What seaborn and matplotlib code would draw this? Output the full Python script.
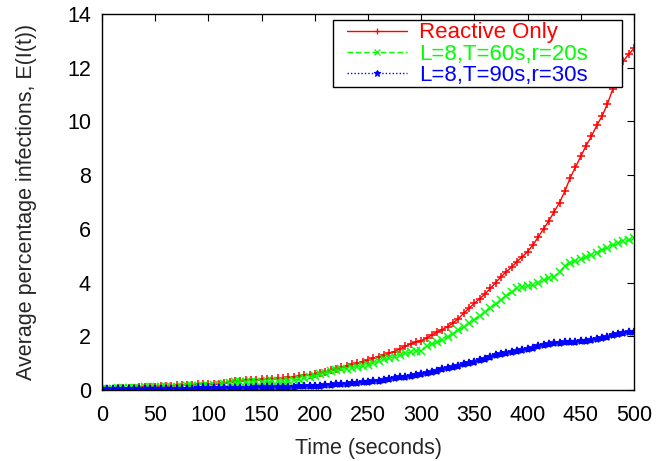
import numpy as np
import pandas as pd
import matplotlib
matplotlib.use("Agg")
import matplotlib.pyplot as plt
from matplotlib.patches import Rectangle
import seaborn as sns

# Simulation time, sampled every 5 seconds
time_s = list(range(0, 505, 5))

reactive_only = [
    0.03, 0.04, 0.05, 0.06, 0.07, 0.08, 0.09, 0.10, 0.11, 0.12,
    0.13, 0.14, 0.15, 0.16, 0.17, 0.18, 0.19, 0.20, 0.21, 0.21,
    0.22, 0.23, 0.24, 0.26, 0.30, 0.34, 0.35, 0.36, 0.37, 0.39,
    0.40, 0.41, 0.42, 0.44, 0.45, 0.47, 0.49, 0.52, 0.55, 0.57,
    0.60, 0.64, 0.68, 0.73, 0.78, 0.84, 0.90, 0.95, 1.00, 1.06,
    1.12, 1.18, 1.24, 1.30, 1.37, 1.43, 1.53, 1.62, 1.72, 1.78,
    1.84, 1.93, 2.05, 2.15, 2.25, 2.36, 2.50, 2.66, 2.86, 3.05,
    3.23, 3.40, 3.58, 3.78, 4.00, 4.22, 4.40, 4.58, 4.78, 4.96,
    5.15, 5.40, 5.70, 6.00, 6.30, 6.64, 6.98, 7.40, 7.90, 8.30,
    8.70, 9.10, 9.45, 9.85, 10.20, 10.65, 11.20, 11.90, 12.25, 12.50,
    12.72,
]

l8_t60_r20 = [
    0.03, 0.04, 0.05, 0.06, 0.07, 0.08, 0.09, 0.09, 0.10, 0.10,
    0.11, 0.11, 0.12, 0.12, 0.13, 0.13, 0.14, 0.14, 0.15, 0.15,
    0.16, 0.17, 0.19, 0.23, 0.27, 0.29, 0.29, 0.30, 0.30, 0.31,
    0.31, 0.32, 0.32, 0.33, 0.34, 0.35, 0.37, 0.40, 0.44, 0.48,
    0.52, 0.58, 0.64, 0.69, 0.73, 0.77, 0.80, 0.83, 0.86, 0.89,
    0.93, 1.00, 1.08, 1.14, 1.19, 1.24, 1.30, 1.36, 1.42, 1.45,
    1.47, 1.62, 1.70, 1.78, 1.86, 1.99, 2.10, 2.22, 2.35, 2.48,
    2.61, 2.75, 2.90, 3.05, 3.20, 3.35, 3.50, 3.65, 3.78, 3.83,
    3.86, 3.92, 4.00, 4.10, 4.16, 4.22, 4.40, 4.60, 4.72, 4.80,
    4.87, 4.95, 5.04, 5.12, 5.20, 5.30, 5.40, 5.48, 5.54, 5.60,
    5.65,
]

l8_t90_r30 = [
    0.02, 0.02, 0.02, 0.03, 0.03, 0.03, 0.03, 0.03, 0.04, 0.04,
    0.04, 0.04, 0.04, 0.05, 0.05, 0.05, 0.05, 0.05, 0.06, 0.06,
    0.06, 0.07, 0.07, 0.08, 0.08, 0.08, 0.09, 0.09, 0.09, 0.10,
    0.10, 0.11, 0.11, 0.12, 0.12, 0.13, 0.13, 0.14, 0.14, 0.15,
    0.15, 0.16, 0.18, 0.19, 0.21, 0.22, 0.24, 0.26, 0.27, 0.29,
    0.31, 0.33, 0.35, 0.38, 0.40, 0.43, 0.47, 0.50, 0.53, 0.56,
    0.60, 0.64, 0.68, 0.72, 0.77, 0.81, 0.86, 0.90, 0.95, 1.00,
    1.05, 1.10, 1.17, 1.24, 1.30, 1.34, 1.37, 1.41, 1.45, 1.48,
    1.51, 1.56, 1.62, 1.67, 1.71, 1.74, 1.76, 1.78, 1.79, 1.80,
    1.82, 1.84, 1.87, 1.91, 1.95, 1.99, 2.03, 2.07, 2.11, 2.15,
    2.17,
]

labels = ["Reactive Only", "L=8,T=60s,r=20s", "L=8,T=90s,r=30s"]
colors = ["#ff0000", "#00ff00", "#0000ff"]
markers = ["+", "x", "*"]
linestyles = ["-", (0, (4, 2)), (0, (1, 1.5))]

x_ticks = list(range(0, 501, 50))
y_ticks = list(range(0, 15, 2))

sns.set_style("white")
plt.rcParams["font.family"] = ["Liberation Sans", "DejaVu Sans"]

fig = plt.figure(figsize=(6.57, 4.61), dpi=100)
ax = fig.add_axes([0.1553, 0.154, 0.8097, 0.8156])

series = [reactive_only, l8_t60_r20, l8_t90_r30]
for vals, lab, col, mk, ls in zip(series, labels, colors, markers, linestyles):
    df = pd.DataFrame({"t": time_s, "v": vals})
    sns.lineplot(data=df, x="t", y="v", ax=ax, color=col, label=lab,
                 marker=mk, markersize=6, markeredgewidth=1.1,
                 markeredgecolor=col, linewidth=1.0, linestyle=ls)

ax.set_xlim(0, 500)
ax.set_ylim(0, 14)
ax.set_xticks(x_ticks)
ax.set_yticks(y_ticks)
ax.tick_params(direction="in", length=5, width=0.8, top=True, right=True,
               labelsize=15.5, colors="black", pad=8)
ax.tick_params(axis="x", pad=11)
for sp in ax.spines.values():
    sp.set_visible(True)
    sp.set_color("black")
    sp.set_linewidth(1.0)

ax.set_xlabel("Time (seconds)", fontsize=15.5)
ax.set_ylabel("Average percentage infections, E(I(t))", fontsize=15.5)
ax.xaxis.set_label_coords(0.5, -0.128)
ax.yaxis.set_label_coords(-0.122, 0.5)

# Legend box drawn separately so its padding can be set per side
ax.add_patch(Rectangle((0.4342, 0.806), 0.5432, 0.178, transform=ax.transAxes,
                       facecolor="white", edgecolor="black", linewidth=1.0,
                       zorder=5))
leg = ax.legend(loc="upper left", bbox_to_anchor=(0.4605, 0.978),
                fontsize=16, frameon=False, labelcolor="linecolor",
                handlelength=2.7, handletextpad=0.55, borderpad=0.0,
                labelspacing=0.02, numpoints=1, borderaxespad=0)
for h in leg.legend_handles:
    h.set_markersize(5)
    h.set_markeredgewidth(0.9)
leg.set_zorder(6)

fig.savefig("out.png", dpi=100)
